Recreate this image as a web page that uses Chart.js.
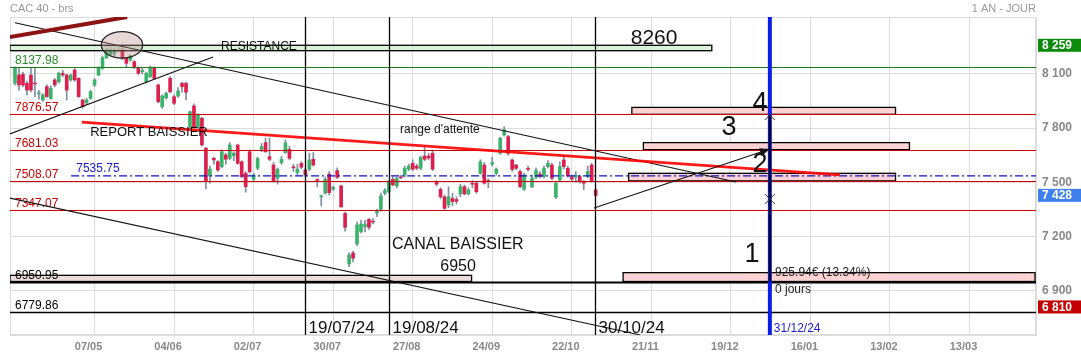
<!DOCTYPE html>
<html>
<head>
<meta charset="utf-8">
<script src="https://cdn.jsdelivr.net/npm/chart.js@4/dist/chart.umd.min.js"></script>
<style>html,body{margin:0;padding:0;background:#fff;overflow:hidden}</style>
</head>
<body>
<canvas id="c" width="1081" height="356"></canvas>
<script>
// CAC 40, bougies journalieres (index = jour de bourse, 1 = 09/04/24)
var opens = [8049,8094,8098,8048,8094,8050,7990,7956,8030,7965, 8067,8057,8104,8094,8067,8122,8076,7956,7940,7965,
  8039,8094,8132,8190,8205,8215,8240,8242,8187,8178, 8168,8132,8113,8057,8085,8137,8039,7919,7969,8076,
  7974,7978,8048,8048,7808,7923,7808,7855,7689,7535, 7633,7614,7587,7652,7633,7648,7707,7614,7550,7670,
  7517,7578,7683,7720,7642,7596,7523,7609,7665,7683, 7585,7554,7605,7568,7572,7628,7513,7420,7440,7546,
  7462,7565,7480,7328,7048,7109,7159,7227,7255,7295, 7285,7330,7351,7440,7448,7517,7480,7530,7541,7573,
  7605,7590,7578,7646,7646,7661,7500,7461,7420,7375, 7411,7405,7436,7476,7436,7495,7495,7550,7596,7510,
  7600,7550,7661,7762,7753,7624,7596,7560,7462,7575, 7476,7528,7546,7532,7587,7596,7418,7513,7624,7578,
  7530,7530,7532,7500,7532,7596,7458];
var highs = [8140,8133,8110,8060,8132,8132,8010,7990,8040,8035, 8075,8110,8120,8100,8100,8130,8080,7960,7965,8010,
  8075,8140,8200,8250,8255,8250,8259,8255,8190,8205, 8175,8140,8135,8110,8145,8140,8045,7985,8000,8085,
  7985,8025,8055,8055,7895,7935,7880,7860,7695,7590, 7640,7620,7680,7660,7720,7670,7712,7620,7560,7680,
  7550,7640,7715,7744,7744,7610,7580,7645,7735,7700, 7600,7600,7615,7580,7661,7665,7520,7430,7530,7560,
  7480,7580,7485,7335,7110,7120,7280,7290,7290,7300, 7300,7350,7440,7465,7510,7530,7530,7540,7590,7600,
  7625,7600,7645,7697,7660,7679,7510,7470,7430,7476, 7440,7420,7490,7485,7470,7510,7500,7625,7610,7520,
  7640,7580,7750,7808,7760,7630,7600,7570,7550,7590, 7540,7580,7560,7590,7620,7605,7505,7614,7640,7590,
  7540,7560,7540,7510,7590,7605,7465];
var lows = [8040,8011,8030,7984,8002,7975,7960,7950,7970,7960, 8030,8050,8085,7956,8060,8060,7970,7910,7930,7960,
  8030,8090,8125,8185,8200,8200,8225,8180,8140,8170, 8130,8095,8100,8050,8080,8070,7940,7910,7960,7995,
  7930,7970,8000,7956,7800,7800,7800,7700,7465,7495, 7600,7560,7580,7600,7625,7620,7600,7525,7445,7550,
  7505,7570,7670,7665,7620,7500,7490,7600,7660,7625, 7560,7540,7575,7530,7565,7590,7475,7370,7435,7430,
  7455,7520,7360,7230,7033,7060,7150,7220,7225,7240, 7270,7310,7340,7430,7440,7480,7470,7520,7530,7565,
  7565,7570,7570,7620,7625,7565,7480,7410,7350,7360, 7370,7380,7420,7430,7430,7470,7440,7545,7490,7470,
  7590,7540,7655,7755,7650,7560,7570,7470,7455,7565, 7470,7520,7525,7525,7580,7515,7410,7505,7575,7530,
  7505,7500,7495,7460,7525,7500,7425];
var closes = [8132,8039,8039,8011,8011,8045,7995,7984,7975,8021, 8039,8104,8095,8011,8094,8067,7975,7919,7956,8002,
  8067,8132,8190,8240,8240,8230,8245,8187,8159,8201, 8140,8104,8120,8104,8137,8076,7947,7978,7993,8002,
  7938,8006,8030,7999,7891,7808,7873,7707,7504,7573, 7624,7568,7670,7628,7707,7661,7605,7531,7476,7559,
  7541,7633,7698,7670,7628,7504,7573,7628,7720,7633, 7580,7573,7584,7541,7624,7596,7510,7425,7517,7443,
  7472,7528,7365,7251,7098,7080,7264,7269,7269,7251, 7280,7338,7425,7454,7504,7486,7523,7525,7578,7591,
  7573,7578,7639,7628,7635,7573,7490,7420,7356,7420, 7393,7395,7476,7436,7458,7490,7448,7614,7495,7505,
  7610,7573,7744,7790,7661,7572,7578,7476,7541,7572, 7523,7565,7532,7578,7605,7523,7495,7587,7587,7535,
  7518,7540,7505,7495,7560,7504,7428];

var xTickPos = [21, 41, 61, 81, 101, 121, 141, 161, 181, 201, 221, 241];
var xTickLabels = ["07/05", "04/06", "02/07", "30/07", "27/08", "24/09", "22/10", "21/11", "19/12", "16/01", "13/02", "13/03"];
var yTickVals = [6900, 7200, 7500, 7800, 8100];

// niveaux horizontaux
var levelVals = [8137.98, 7876.57, 7681.03, 7508.07, 7347.07, 6950.95, 6779.86];
var levelColors = ["#1f7a1f", "#cc0000", "#cc0000", "#cc0000", "#cc0000", "#000000", "#000000"];
var pivot = 7535.75;
// etiquettes prix a droite
var tagVals = [8259, 7428, 6810];
var tagColors = ["#0b8a0b", "#3f80ee", "#c40000"];
// zones [x0, x1, bas, haut]
var zones = [
  [-1, 176.2, 8229, 8259, "rgba(200,238,200,0.7)"],
  [-1, 115.8, 6950.95, 6985, "#ecdcda"],
  [156.1, 222.4, 7876.57, 7915, "#ffd3d3"],
  [159.0, 225.9, 7681.03, 7720, "#ffd3d3"],
  [155.3, 222.4, 7508.07, 7550, "#ffd3d3"],
  [153.9, 260, 6950.95, 7000, "#ffd3d3"]
];
// droites [x0, y0, x1, y1]
var trendBlack = [
  [1.0, 8384, 182.3, 7502],
  [-0.3, 7768, 50.8, 8194],
  [-0.3, 7413, 158.2, 6655]
];
var trendDarkRed = [-0.3, 8305, 29.2, 8416];
var trendRed = [17.8, 7834, 208.4, 7541];
var arrowLine = [146.6, 7358, 190.8, 7685];
var vDates = [74, 95, 146.9];
var vDateLabels = ["19/07/24", "19/08/24", "30/10/24"];
var targetDay = 190.8;

var wicks = [], bodies = [], bodyColors = [];
for (var i = 0; i < opens.length; i++) {
    wicks.push({ x: i + 1, y: [lows[i], highs[i]] });
    bodies.push({ x: i + 1, y: [opens[i], closes[i]] });
    bodyColors.push(closes[i] >= opens[i] ? "#3cb36a" : "#dc1f4c");
}

function spaced(v) {
    return String(v).replace(/\B(?=(\d{3})+(?!\d))/g, " ");
}

var FONT = "'Liberation Sans', Arial, sans-serif";

function arrowHead(ctx, x0, y0, x1, y1, len, half) {
    var a = Math.atan2(y1 - y0, x1 - x0);
    ctx.beginPath();
    ctx.moveTo(x1, y1);
    ctx.lineTo(x1 - len * Math.cos(a) + half * Math.sin(a), y1 - len * Math.sin(a) - half * Math.cos(a));
    ctx.lineTo(x1 - len * Math.cos(a) - half * Math.sin(a), y1 - len * Math.sin(a) + half * Math.cos(a));
    ctx.closePath();
    ctx.fill();
}

var drawings = {
    id: "drawings",
    beforeDatasetsDraw: function (chart) {
        var ctx = chart.ctx, a = chart.chartArea;
        ctx.save();
        ctx.strokeStyle = "#dcdcdc";
        ctx.lineWidth = 1;
        ctx.strokeRect(a.left + 0.5, a.top + 0.5, a.right - a.left - 1, a.bottom - a.top - 1);
        ctx.restore();
    },
    afterDatasetsDraw: function (chart) {
        var ctx = chart.ctx, a = chart.chartArea;
        var xs = chart.scales.x, ys = chart.scales.y;
        var X = function (v) { return xs.getPixelForValue(v); };
        var Y = function (v) { return ys.getPixelForValue(v); };
        function seg(l, color, w) {
            ctx.strokeStyle = color; ctx.lineWidth = w;
            ctx.beginPath(); ctx.moveTo(X(l[0]), Y(l[1])); ctx.lineTo(X(l[2]), Y(l[3])); ctx.stroke();
        }
        function text(t, x, y, size, color, align) {
            ctx.font = size + "px " + FONT;
            ctx.fillStyle = color;
            ctx.textAlign = align || "left";
            ctx.textBaseline = "middle";
            ctx.fillText(t, x, y);
        }

        ctx.save();
        ctx.beginPath();
        ctx.rect(a.left, a.top, a.right - a.left, a.bottom - a.top);
        ctx.clip();

        // zones
        zones.forEach(function (z) {
            var x0 = Math.max(X(z[0]), a.left), x1 = Math.min(X(z[1]), a.right - 1);
            ctx.fillStyle = z[4];
            ctx.fillRect(x0, Y(z[3]), x1 - x0, Y(z[2]) - Y(z[3]));
            ctx.strokeStyle = "#000"; ctx.lineWidth = 1.3;
            ctx.strokeRect(x0, Y(z[3]), x1 - x0, Y(z[2]) - Y(z[3]));
        });

        // niveaux
        levelVals.forEach(function (v, k) {
            var y = Math.round(Y(v)) + 0.5;
            ctx.strokeStyle = levelColors[k];
            ctx.lineWidth = k === 5 ? 2 : (k === 6 ? 1.5 : 1.2);
            ctx.beginPath(); ctx.moveTo(a.left, y); ctx.lineTo(a.right, y); ctx.stroke();
            text(v.toFixed(2), X(1), y - 7, 12, k === 0 ? "#2a8a2a" : levelColors[k]);
        });
        ctx.setLineDash([8, 3, 2, 3]);
        ctx.strokeStyle = "#1010c8"; ctx.lineWidth = 1.3;
        ctx.beginPath(); ctx.moveTo(X(15.1), Y(pivot)); ctx.lineTo(a.right, Y(pivot)); ctx.stroke();
        ctx.setLineDash([]);
        text(pivot.toFixed(2), X(16.4), Y(pivot) - 7, 12, "#1a1acc");

        // droites de tendance
        trendBlack.forEach(function (l) { seg(l, "#111", 1.1); });
        seg(trendDarkRed, "#8e1414", 4);
        ctx.globalAlpha = 0.9;
        seg(trendRed, "#ff0000", 2.8);
        ctx.globalAlpha = 1;

        // verticales de dates
        vDates.forEach(function (d, k) {
            var x = Math.round(X(d)) + 0.5;
            ctx.strokeStyle = "#000"; ctx.lineWidth = 1.3;
            ctx.beginPath(); ctx.moveTo(x, a.top); ctx.lineTo(x, a.bottom); ctx.stroke();
            text(vDateLabels[k], x + 3, a.bottom - 7, 17, "#111");
        });

        // objectif 31/12/24
        var xt = X(targetDay);
        ctx.strokeStyle = "#0a1ee6"; ctx.lineWidth = 4;
        ctx.beginPath(); ctx.moveTo(xt, a.top); ctx.lineTo(xt, a.bottom); ctx.stroke();
        ctx.strokeStyle = "#000"; ctx.lineWidth = 2;
        ctx.beginPath(); ctx.moveTo(xt, Y(7873)); ctx.lineTo(xt, Y(6950.95)); ctx.stroke();
        ctx.lineWidth = 1; ctx.strokeStyle = "#333";
        ctx.beginPath();
        ctx.moveTo(xt - 5, Y(7873) + 5); ctx.lineTo(xt, Y(7873)); ctx.lineTo(xt + 5, Y(7873) + 5);
        ctx.moveTo(xt - 5, Y(7408) - 5); ctx.lineTo(xt + 5, Y(7408) + 5);
        ctx.moveTo(xt + 5, Y(7408) - 5); ctx.lineTo(xt - 5, Y(7408) + 5);
        ctx.stroke();
        seg(arrowLine, "#111", 1.1);
        ctx.fillStyle = "#111";
        arrowHead(ctx, X(arrowLine[0]), Y(arrowLine[1]), X(arrowLine[2]), Y(arrowLine[3]), 10, 4);

        // ellipse du sommet
        ctx.beginPath();
        ctx.ellipse(X(27.9), Y(8261), X(33.1) - X(27.9), Y(8261 - 73.6) - Y(8261), 0, 0, Math.PI * 2);
        ctx.fillStyle = "rgba(190,140,140,0.35)";
        ctx.fill();
        ctx.strokeStyle = "#222"; ctx.lineWidth = 1.2;
        ctx.stroke();

        // textes
        text("RESISTANCE", X(52.8), Y(8250), 12, "#111");
        text("8260", X(161.7), Y(8299), 21, "#111", "center");
        text("REPORT BAISSIER", X(19.9), Y(7779), 13, "#111");
        text("range d'attente", X(97.8), Y(7790), 12, "#111");
        text("CANAL BAISSIER", X(95.8), Y(7153), 16, "#111");
        text("6950", X(112.4), Y(7031), 16, "#111", "center");
        text("4", X(188.3), Y(7935), 27, "#111", "center");
        text("3", X(180.5), Y(7801), 27, "#111", "center");
        text("2", X(188.3), Y(7598), 27, "#111", "center");
        text("1", X(186.3), Y(7100), 27, "#111", "center");
        text("925.94\u20ac (13.34%)", X(192.1), Y(7000), 12, "#222");
        text("0 jours", X(192.1), Y(6904), 12, "#222");
        text("31/12/24", X(191.8), Y(6688), 12, "#1a1ad0");
        ctx.restore();

        // etiquettes de prix sur l'axe
        ctx.save();
        tagVals.forEach(function (v, k) {
            var y = Y(v);
            ctx.fillStyle = tagColors[k];
            ctx.fillRect(a.right + 2, y - 6.5, chart.width - a.right - 2, 13);
            ctx.font = "bold 12px " + FONT;
            ctx.fillStyle = "#fff";
            ctx.textAlign = "left"; ctx.textBaseline = "middle";
            ctx.fillText(spaced(v), a.right + 6, y + 0.5);
        });
        ctx.font = "11px " + FONT;
        ctx.fillStyle = "#999";
        ctx.textBaseline = "middle";
        ctx.textAlign = "left";
        ctx.fillText("CAC 40 - brs", a.left, 9);
        ctx.textAlign = "right";
        ctx.fillText("1 AN - JOUR", a.right, 9);
        ctx.restore();
    }
};

var ctx = document.getElementById("c").getContext("2d");
var chart = new Chart(ctx, {
    type: "bar",
    data: {
        datasets: [
            { label: "meches", data: wicks, backgroundColor: "#7d8ea4", barThickness: 1, grouped: false, order: 2 },
            { label: "corps", data: bodies, backgroundColor: bodyColors, barThickness: 3, grouped: false, minBarLength: 1, order: 1 }
        ]
    },
    options: {
        responsive: false,
        animation: false,
        devicePixelRatio: 1,
        layout: { padding: { left: 10, top: 17, right: 0, bottom: 0 } },
        plugins: { legend: { display: false }, tooltip: { enabled: false } },
        scales: {
            x: {
                type: "linear",
                offset: false,
                min: -0.26,
                max: 257.72,
                afterBuildTicks: function (s) { s.ticks = xTickPos.map(function (v) { return { value: v }; }); },
                afterFit: function (s) { s.height = 21; },
                grid: { color: "#dcdcdc", drawTicks: false, offset: false },
                border: { color: "#dcdcdc" },
                ticks: {
                    padding: 5,
                    labelOffset: -6,
                    maxRotation: 0,
                    autoSkip: false,
                    color: "#888",
                    font: { family: FONT, size: 11, weight: "bold" },
                    callback: function (v) { var k = xTickPos.indexOf(v); return k < 0 ? "" : xTickLabels[k]; }
                }
            },
            y: {
                position: "right",
                min: 6654.7,
                max: 8415.6,
                afterBuildTicks: function (s) { s.ticks = yTickVals.map(function (v) { return { value: v }; }); },
                afterFit: function (s) { s.width = 45; },
                grid: { color: "#dcdcdc", drawTicks: false },
                border: { color: "#dcdcdc" },
                ticks: {
                    padding: 6,
                    color: "#888",
                    font: { family: FONT, size: 12, weight: "bold" },
                    callback: function (v) { return spaced(v); }
                }
            }
        }
    },
    plugins: [drawings]
});
</script>
</body>
</html>
